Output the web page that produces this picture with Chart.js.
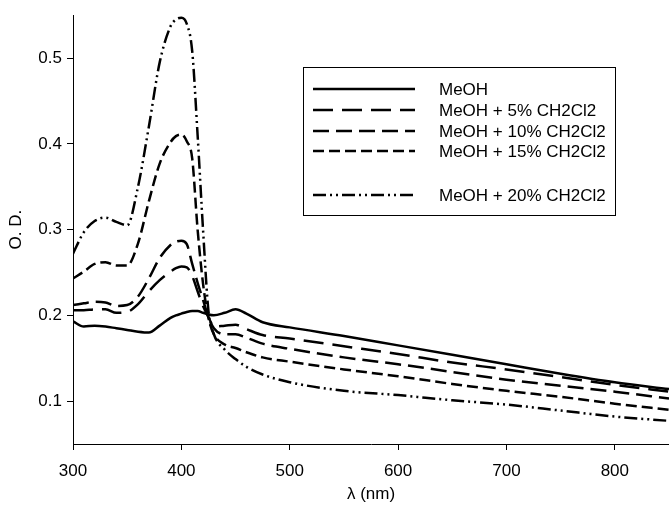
<!DOCTYPE html>
<html>
<head>
<meta charset="utf-8">
<script src="https://cdn.jsdelivr.net/npm/chart.js@4.4.1/dist/chart.umd.min.js"></script>
<style>
  html, body { margin: 0; padding: 0; background: #fff; }
  #wrap { width: 669px; height: 505px; }
</style>
</head>
<body>
<div id="wrap"><canvas id="spectra"></canvas></div>
<script>
// wavelength grid (nm) shared by all spectra
const wavelengths = [300, 310, 320, 330, 340, 350, 360, 370, 380, 390, 395, 400, 405, 410, 415, 420, 425, 430, 440, 450, 460, 475, 500, 550, 600, 650, 700, 750, 800, 850];

const meoh    = [0.193, 0.187, 0.188, 0.187, 0.185, 0.183, 0.181, 0.180, 0.188, 0.197, 0.200, 0.202, 0.204, 0.205, 0.205, 0.203, 0.201, 0.200, 0.203, 0.207, 0.202, 0.192, 0.186, 0.176, 0.165, 0.154, 0.143, 0.132, 0.122, 0.114];
const dcm5    = [0.206, 0.206, 0.207, 0.207, 0.203, 0.204, 0.213, 0.228, 0.241, 0.251, 0.255, 0.257, 0.256, 0.246, 0.228, 0.211, 0.198, 0.187, 0.188, 0.189, 0.184, 0.177, 0.173, 0.164, 0.155, 0.145, 0.137, 0.128, 0.119, 0.111];
const dcm10   = [0.212, 0.214, 0.216, 0.215, 0.211, 0.212, 0.222, 0.243, 0.267, 0.282, 0.286, 0.287, 0.283, 0.260, 0.238, 0.218, 0.198, 0.185, 0.178, 0.178, 0.174, 0.167, 0.161, 0.151, 0.143, 0.134, 0.125, 0.118, 0.111, 0.103];
const dcm15   = [0.243, 0.251, 0.260, 0.262, 0.258, 0.258, 0.284, 0.333, 0.377, 0.402, 0.409, 0.411, 0.403, 0.383, 0.300, 0.237, 0.197, 0.178, 0.166, 0.162, 0.157, 0.151, 0.146, 0.137, 0.129, 0.120, 0.112, 0.105, 0.097, 0.090];
const dcm20   = [0.272, 0.297, 0.310, 0.314, 0.309, 0.305, 0.350, 0.420, 0.495, 0.537, 0.545, 0.547, 0.540, 0.508, 0.410, 0.300, 0.205, 0.178, 0.160, 0.149, 0.140, 0.131, 0.122, 0.112, 0.107, 0.101, 0.096, 0.089, 0.082, 0.077];

const seriesLabels = ["MeOH", "MeOH + 5% CH2Cl2", "MeOH + 10% CH2Cl2", "MeOH + 15% CH2Cl2", "MeOH + 20% CH2Cl2"];
const seriesDash = [[], [20, 9], [16, 7], [11, 5], [13, 4, 2, 4, 2, 4]];
const xTicks = [300, 400, 500, 600, 700, 800];
const yTicks = [0.1, 0.2, 0.3, 0.4, 0.5];

const FONT = "'Liberation Sans', Arial, sans-serif";
const FONT_SIZE = 17;

const allSeries = [meoh, dcm5, dcm10, dcm15, dcm20];
const datasets = allSeries.map((vals, i) => ({
  label: seriesLabels[i],
  data: wavelengths.map((w, j) => ({ x: w, y: vals[j] })),
  borderColor: "#000",
  borderWidth: 2.5,
  borderDash: seriesDash[i],
  pointRadius: 0,
  fill: false,
  cubicInterpolationMode: "monotone",
}));

// boxed legend inside the plot, with a gap before the last entry
const boxLegend = {
  id: "boxLegend",
  afterDatasetsDraw(chart) {
    const ctx = chart.ctx;
    const x0 = 303, y0 = 67, w = 312, h = 148;
    const rows = [89, 110, 131, 151, 195];
    ctx.save();
    ctx.fillStyle = "#fff";
    ctx.fillRect(x0, y0, w, h);
    ctx.strokeStyle = "#000";
    ctx.lineWidth = 1;
    ctx.strokeRect(x0 + 0.5, y0 + 0.5, w, h);
    ctx.font = FONT_SIZE + "px " + FONT;
    ctx.textBaseline = "middle";
    chart.data.datasets.forEach((ds, i) => {
      const y = rows[i];
      ctx.beginPath();
      ctx.setLineDash(ds.borderDash);
      ctx.lineWidth = 2.5;
      ctx.moveTo(313, y);
      ctx.lineTo(415, y);
      ctx.stroke();
      ctx.setLineDash([]);
      ctx.fillStyle = "#000";
      ctx.fillText(ds.label, 439, y + 1);
    });
    ctx.restore();
  },
};

new Chart(document.getElementById("spectra"), {
  type: "line",
  data: { datasets },
  options: {
    responsive: true,
    maintainAspectRatio: false,
    animation: false,
    layout: { padding: { top: 13, right: 0, left: 0, bottom: 0 } },
    plugins: {
      legend: { display: false },
      tooltip: { enabled: false },
    },
    scales: {
      x: {
        type: "linear",
        min: 300,
        max: 850,
        afterBuildTicks: (scale) => { scale.ticks = xTicks.map((v) => ({ value: v })); },
        afterFit: (scale) => { scale.height = 61; },
        grid: { display: true, drawOnChartArea: false, drawTicks: true, tickLength: 6, color: "#000" },
        border: { display: true, color: "#000", width: 1 },
        ticks: { color: "#000", font: { family: FONT, size: FONT_SIZE }, padding: 11, maxRotation: 0 },
        title: { display: true, text: "λ (nm)", color: "#000", font: { family: FONT, size: FONT_SIZE }, padding: { top: 2, bottom: 0 } },
      },
      y: {
        type: "linear",
        min: 0.05,
        max: 0.55,
        afterBuildTicks: (scale) => { scale.ticks = yTicks.map((v) => ({ value: v })); },
        afterFit: (scale) => { scale.width = 73; },
        grid: { display: true, drawOnChartArea: false, drawTicks: true, tickLength: 6, color: "#000" },
        border: { display: true, color: "#000", width: 1 },
        ticks: { color: "#000", font: { family: FONT, size: FONT_SIZE }, padding: 5, callback: (v) => v.toFixed(1) },
        title: { display: true, text: "O. D.", color: "#000", font: { family: FONT, size: FONT_SIZE }, padding: { top: 6, bottom: 0 } },
      },
    },
  },
  plugins: [boxLegend],
});
</script>
</body>
</html>
